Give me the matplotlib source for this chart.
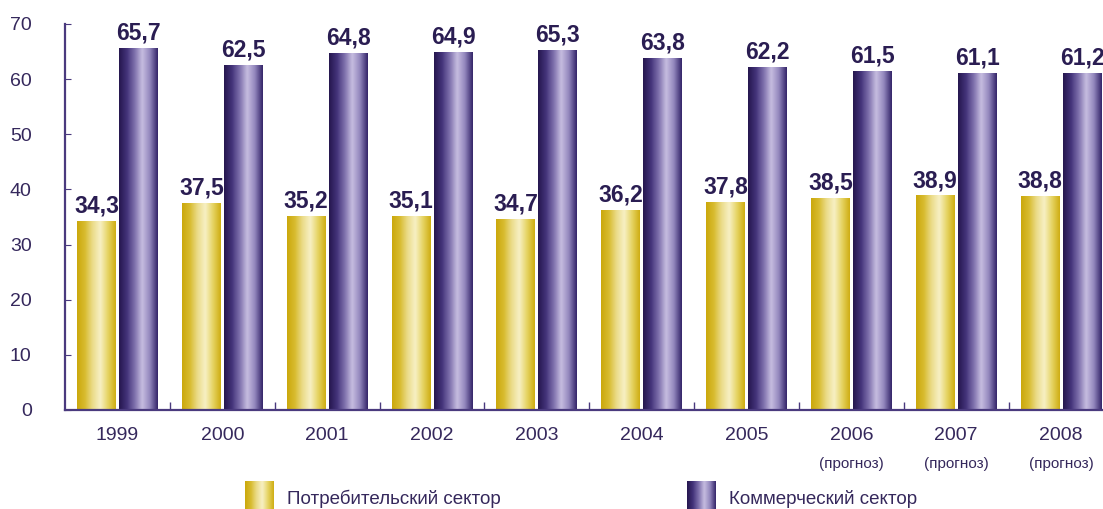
"""
Consumer vs commercial sector, 1999-2008 (2006-2008 forecast).
Grouped bar chart with gradient-filled bars.
"""

import numpy as np
import matplotlib
matplotlib.use("Agg")
import matplotlib.pyplot as plt
from matplotlib.colors import LinearSegmentedColormap

# ============================================================
# Data
# ============================================================

years = ["1999", "2000", "2001", "2002", "2003", "2004", "2005", "2006", "2007", "2008"]
forecast_years = ["2006", "2007", "2008"]
consumer = [34.3, 37.5, 35.2, 35.1, 34.7, 36.2, 37.8, 38.5, 38.9, 38.8]
commercial = [65.7, 62.5, 64.8, 64.9, 65.3, 63.8, 62.2, 61.5, 61.1, 61.2]
series_names = ["Потребительский сектор", "Коммерческий сектор"]
y_ticks = [0, 10, 20, 30, 40, 50, 60, 70]

# ============================================================
# Style
# ============================================================

TEXT_COLOR = "#35285c"
SPINE_COLOR = "#4a3a7e"

yellow_cmap = LinearSegmentedColormap.from_list(
    "yel", ["#cba80c", "#d8bc30", "#ebdc8a", "#f7f0c4", "#e6d464", "#cfae14"])
purple_cmap = LinearSegmentedColormap.from_list(
    "pur", ["#26174f", "#43337a", "#7e70ac", "#c6bde0", "#9387bd", "#35266a"])

plt.rcParams["font.family"] = ["Liberation Sans", "DejaVu Sans"]

gradient = np.linspace(0, 1, 64).reshape(1, -1)


def fill_gradient(ax, bars, cmap):
    """Paint each bar with a horizontal gradient clipped to its shape."""
    for bar in bars:
        x0 = bar.get_x()
        x1 = x0 + bar.get_width()
        h = bar.get_height()
        im = ax.imshow(gradient, cmap=cmap, extent=[x0, x1, 0, h],
                       aspect="auto", interpolation="bicubic", zorder=2)
        im.set_clip_path(bar)


# ============================================================
# Plot
# ============================================================

fig = plt.figure(figsize=(11.03, 5.09), dpi=100)
ax = fig.add_axes([0.059, 0.1945, 0.941, 0.7584])

x = np.arange(len(years))
width = 0.37
offset = 0.2

bars_c = ax.bar(x - offset, consumer, width, color="none", edgecolor="none", zorder=2)
bars_k = ax.bar(x + offset, commercial, width, color="none", edgecolor="none", zorder=2)
fill_gradient(ax, bars_c, yellow_cmap)
fill_gradient(ax, bars_k, purple_cmap)

for bars, vals in ((bars_c, consumer), (bars_k, commercial)):
    for bar, v in zip(bars, vals):
        ax.annotate(f"{v:.1f}".replace(".", ","),
                    (bar.get_x() + bar.get_width() / 2, v),
                    xytext=(0, 2.5), textcoords="offset points",
                    ha="center", va="bottom", fontsize=16.5, fontweight="bold",
                    color="#2a1d52", zorder=3)

ax.set_xlim(-0.5, 9.4)
ax.set_ylim(0, 70)

ax.spines["top"].set_visible(False)
ax.spines["right"].set_visible(False)
for side in ("left", "bottom"):
    ax.spines[side].set_color(SPINE_COLOR)
    ax.spines[side].set_linewidth(1.6)

ax.set_yticks(y_ticks)
ax.tick_params(axis="y", direction="in", length=4, color=SPINE_COLOR,
               labelsize=14, labelcolor=TEXT_COLOR, pad=24)

ax.set_xticks(x)
ax.set_xticklabels(years)
ax.tick_params(axis="x", which="major", length=0, labelsize=14,
               labelcolor=TEXT_COLOR, pad=12)
ax.set_xticks(x[:-1] + 0.5, minor=True)
ax.tick_params(axis="x", which="minor", direction="in", length=6,
               color=SPINE_COLOR, width=1)

for i, yr in enumerate(years):
    if yr in forecast_years:
        ax.text(i, -0.14, "(прогноз)", transform=ax.get_xaxis_transform(),
                ha="center", va="center", fontsize=11, color=TEXT_COLOR)

# legend with gradient swatches
legend_items = [(0.222, yellow_cmap, series_names[0]),
                (0.623, purple_cmap, series_names[1])]
for left, cmap, label in legend_items:
    sw = fig.add_axes([left, -0.02, 0.026, 0.075])
    sw.imshow(gradient, cmap=cmap, aspect="auto", interpolation="bicubic")
    sw.axis("off")
    fig.text(left + 0.038, 0.02, label, ha="left", va="center",
             fontsize=13.5, color=TEXT_COLOR)

fig.savefig("out.png", dpi=100)
